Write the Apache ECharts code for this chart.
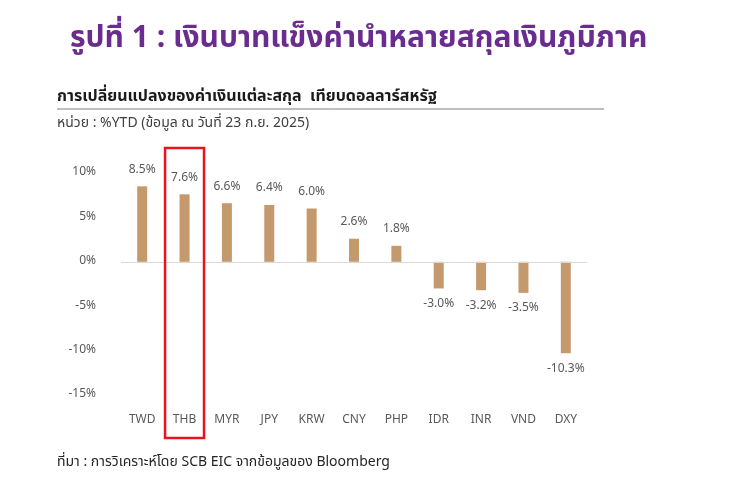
<!DOCTYPE html>
<html>
<head>
<meta charset="utf-8">
<script src="https://cdn.jsdelivr.net/npm/echarts@6/dist/echarts.min.js"></script>
<style>
html,body{margin:0;padding:0;background:#fff;}
#c{width:756px;height:496px;}
</style>
</head>
<body>
<div id="c"></div>
<script>
var categories = ['TWD','THB','MYR','JPY','KRW','CNY','PHP','IDR','INR','VND','DXY'];
var values = [8.5, 7.6, 6.6, 6.4, 6.0, 2.6, 1.8, -3.0, -3.2, -3.5, -10.3];
var yTicks = [-15, -10, -5, 0, 5, 10];
var highlight = 'THB';

var titleText = 'รูปที่ 1 : เงินบาทแข็งค่านำหลายสกุลเงินภูมิภาค';
var subtitleText = 'การเปลี่ยนแปลงของค่าเงินแต่ละสกุล  เทียบดอลลาร์สหรัฐ';
var unitText = 'หน่วย : %YTD (ข้อมูล ณ วันที่ 23 ก.ย. 2025)';
var sourceText = 'ที่มา : การวิเคราะห์โดย SCB EIC จากข้อมูลของ Bloomberg';

var FONT = '"Noto Sans Thai","Noto Sans","Open Sans",sans-serif';
var chart = echarts.init(document.getElementById('c'));
var option = {
  backgroundColor: '#fff',
  animation: false,
  textStyle: {fontFamily: FONT},
  grid: {left: 121, right: 169, top: 173, bottom: 101, containLabel: false},
  xAxis: {
    type: 'category',
    data: categories,
    axisLine: {show: false},
    axisTick: {show: false},
    axisLabel: {color: '#595959', fontSize: 12, margin: 20, fontFamily: FONT}
  },
  yAxis: {
    type: 'value',
    min: yTicks[0],
    max: yTicks[yTicks.length - 1],
    interval: 5,
    splitLine: {show: false},
    axisLine: {show: false},
    axisTick: {show: false},
    axisLabel: {color: '#595959', fontSize: 12, margin: 25, formatter: '{value}%', fontFamily: FONT}
  },
  series: [{
    type: 'bar',
    data: values.map(function (v) {
      return v < 0 ? {value: v, label: {position: 'bottom'}} : v;
    }),
    barWidth: 10,
    itemStyle: {color: '#c49a6c'},
    label: {
      show: true,
      position: 'top',
      distance: 10,
      color: '#595959',
      fontSize: 12,
      fontFamily: FONT,
      formatter: function (p) { return p.value.toFixed(1) + '%'; }
    },
    markLine: {
      silent: true,
      symbol: 'none',
      label: {show: false},
      lineStyle: {color: '#d9d9d9', width: 1, type: 'solid'},
      data: [{yAxis: 0}]
    }
  }]
};
chart.setOption(option);

var cx = chart.convertToPixel({xAxisIndex: 0}, highlight);
var c0 = chart.convertToPixel({xAxisIndex: 0}, categories[0]);
var c1 = chart.convertToPixel({xAxisIndex: 0}, categories[1]);
var band = Math.abs(c1 - c0);
chart.setOption({
  graphic: [
    {type: 'text', left: 70, top: 26, style: {text: titleText, fill: '#6a2c8f', font: 'bold 30px ' + FONT}},
    {type: 'text', left: 57, top: 90, style: {text: subtitleText, fill: '#1a1a1a', font: 'bold 16px ' + FONT}},
    {type: 'line', shape: {x1: 57, y1: 109, x2: 604, y2: 109}, style: {stroke: '#7f7f7f', lineWidth: 1}},
    {type: 'text', left: 57, top: 117, style: {text: unitText, fill: '#404040', font: '14px ' + FONT}},
    {type: 'text', left: 57, top: 456, style: {text: sourceText, fill: '#262626', font: '14px ' + FONT}},
    {type: 'rect', shape: {x: cx - band * 0.46, y: 148, width: band * 0.92, height: 290},
     style: {fill: 'none', stroke: '#e8141b', lineWidth: 2.5}, z: 100}
  ]
});
</script>
</body>
</html>
